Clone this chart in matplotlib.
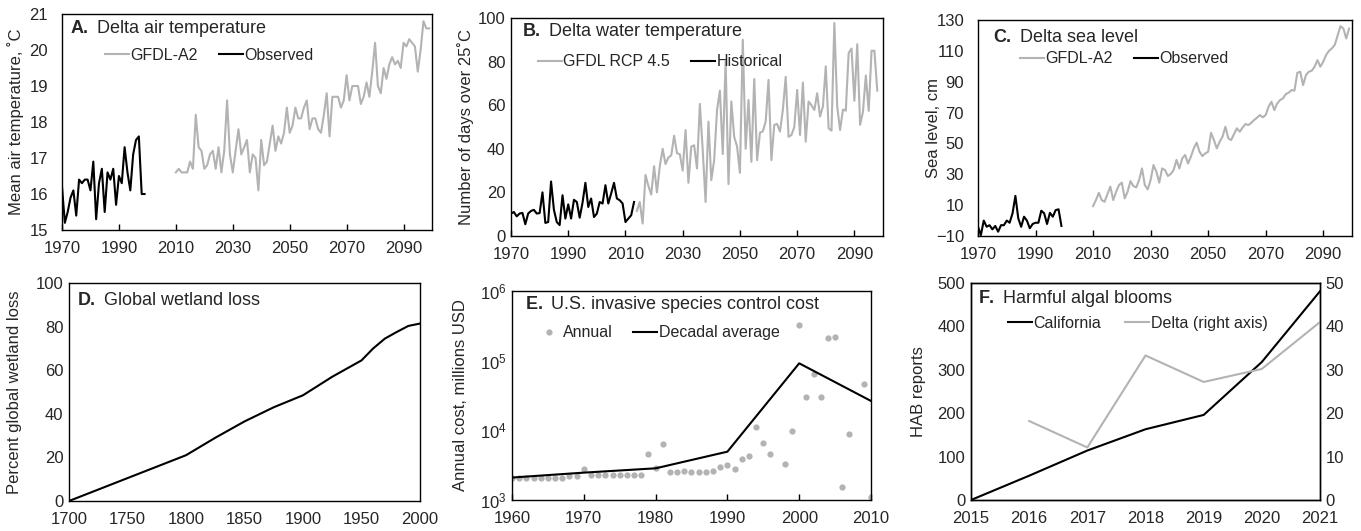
import numpy as np
import matplotlib
matplotlib.use("Agg")
import matplotlib.pyplot as plt

plt.rcParams["font.family"] = ["Liberation Sans", "DejaVu Sans"]
plt.rcParams["mathtext.fontset"] = "custom"
plt.rcParams["mathtext.rm"] = "Liberation Sans"
plt.rcParams["mathtext.bf"] = "Liberation Sans:bold"
plt.rcParams["font.size"] = 12

GRAY = "#b3b3b3"
TXT = "#262626"

# A. air temperature
air_obs_start = 1970
air_obs = [16.2, 15.2, 15.5, 15.9, 16.1, 15.4, 16.4, 16.3, 16.4, 16.4,
           16.1, 16.9, 15.3, 16.3, 16.7, 15.5, 16.6, 16.4, 16.7, 15.7,
           16.5, 16.3, 17.3, 16.6, 16.1, 17.1, 17.5, 17.6, 16.0, 16.0]
air_gfdl_start = 2010
air_gfdl = [16.6, 16.7, 16.6, 16.6, 16.6, 16.9, 16.7, 18.2, 17.3, 17.2,
            16.7, 16.8, 17.1, 17.2, 16.7, 17.3, 16.6, 17.2, 18.6, 17.1,
            16.6, 17.2, 17.8, 17.1, 17.3, 17.5, 16.6, 17.1, 17.0, 16.1,
            17.5, 16.8, 16.9, 17.4, 17.9, 17.2, 17.6, 17.4, 17.7, 18.4,
            17.7, 17.9, 18.4, 18.1, 18.1, 18.4, 18.6, 17.8, 18.1, 18.1,
            17.8, 17.7, 18.2, 18.8, 17.6, 18.7, 18.7, 18.7, 18.4, 18.6,
            19.3, 18.6, 19.0, 19.0, 19.0, 18.5, 18.7, 19.1, 18.7, 19.4,
            20.2, 19.0, 18.8, 19.5, 19.2, 19.6, 19.8, 19.6, 19.7, 19.5,
            20.2, 20.1, 20.3, 20.2, 20.1, 19.4, 20.0, 20.8, 20.6, 20.6]

# B. water temperature, days over 25C
water_hist_start = 1970
water_hist = [10.3, 11, 9, 10.3, 10.6, 5.4, 10.3, 11.5, 12, 10.3,
              10.5, 20, 6, 6.4, 25, 12, 6.4, 5, 18.7, 8,
              14.5, 8, 16.6, 15.6, 8.4, 15.3, 24.4, 13.3, 17.2, 8.7,
              10.3, 15.6, 14.9, 23.3, 14.9, 19.5, 24.4, 17.2, 16.4, 14.9,
              6.4, 8, 9.5, 15.6]
water_gfdl_start = 2014
water_gfdl = [11.5, 15.6, 5.7, 28, 23, 19, 32, 20, 32, 40,
              33, 36, 37, 46, 38,
              37.5, 30, 48.6, 24.4, 41, 41.6, 31, 60.6, 39.4, 15.6,
              52.5, 25.6, 34.8, 57.8, 66.7, 37.6, 80, 23.8, 61.7, 45.5,
              41, 29, 90, 40, 62.4, 34, 72, 34.8, 47.4, 48,
              52.5, 71.6, 34.8, 51, 51.4, 47.9, 57.8, 73, 45.5, 46.3,
              50, 67, 46.3, 70.4, 43.3, 61.7, 60, 57.8, 65.5, 54.8,
              59.4, 77.8, 49.4, 48.3, 97.7, 59.4, 48.6, 58, 57.5, 84,
              86, 62, 88, 51, 57, 73.6, 57.4, 85, 85, 66.7]

# C. sea level
sea_obs_start = 1970
sea_obs = [-4, -9.4, 0, -4, -3, -5.7, -3.5, -7.2, -3, -3,
           0, -1.4, 4.7, 16, 1.4, -4, 2.5, 0, -5, -2.2,
           -1.4, -1.4, 6.4, 4.7, -2.2, 5, 2.5, 6.8, 7.3, -3.5]
sea_gfdl_start = 2010
sea_gfdl = [9.4, 13.3, 18, 13.3, 12.2, 17.2, 22, 13.3, 18.6, 23, 24.6, 14.4,
            18.7, 25.6, 22.4, 21.5, 26.3, 33.8, 23, 20.2, 26.3, 36,
            31.7, 24.6, 33.8, 32.8, 28.9, 30.2, 32.8, 39.3, 33.8, 40.3,
            42.5, 37, 41.4, 46.8, 50.5, 44.6, 41.8, 43.6, 44.6, 56.9,
            52.2, 46.8, 51.1, 54.4, 60.8, 53.3, 52.2, 56.1, 59.8, 57.6,
            60.4, 62.6, 61.9, 63.4, 65.2, 66.7, 68.4, 66.9, 68.4, 73.8,
            77, 71.6, 75.9, 78.1, 79.2, 82, 82.9, 84.6, 84.2, 95.8,
            96.5, 87.8, 94.3, 96.5, 97.1, 99.7, 104, 99.7, 103, 107.3,
            110, 111.6, 113.8, 120, 126, 124.5, 118, 124.5]

# D. global wetland loss
wet_years = [1700, 1750, 1800, 1825, 1850, 1875, 1900, 1925, 1950, 1960, 1970, 1980, 1990, 2000]
wet_loss = [0, 10.5, 21, 29, 36.5, 43, 48.5, 57, 64.5, 70, 74.5, 77.5, 80.3, 81.4]

# E. invasive species control cost (millions USD), nan = no value
cost_start = 1960
cost_annual = [2100, 2100, 2100, 2100, 2100, 2100, 2100, 2100, 2240, 2240,
               2820, 2260, 2260, 2260, 2260, 2260, 2260, 2260, 2260, 4580,
               2850, 6360, 2490, 2510, 2640, 2510, 2510, 2510, 2580, 3010,
               3150, 2790, 3920, 4330, 11000, 6500, 4630, np.nan, 3290, 9780,
               321000, 30100, 63700, 30100, 209000, 216000, 1540, 8770, np.nan, 45700,
               1116]
cost_dec_years = [1960, 1970, 1980, 1990, 2000, 2010]
cost_decadal = [2100, 2470, 2850, 4940, 91600, 26400]

# F. harmful algal blooms
hab_years = [2015, 2016, 2017, 2018, 2019, 2020, 2021]
hab_california = [0, 56, 114, 163, 196, 318, 481]
hab_delta_years = [2016, 2017, 2018, 2019, 2020, 2021]
hab_delta = [18.2, 12.1, 33.3, 27.2, 30.2, 41]


def _yrs(start, values):
    return np.arange(start, start + len(values))


def _px_axes(fig, left, right, top, bottom):
    w, h = 1361.0, 531.0
    return fig.add_axes([left / w, 1 - bottom / h, (right - left) / w, (bottom - top) / h])


def _style(ax, ylabel, label_x, ypad=4, xticks_in=True):
    for s in ax.spines.values():
        s.set_linewidth(1.0)
        s.set_color("black")
    ax.tick_params(axis="y", length=0, pad=ypad, labelsize=12, colors=TXT)
    ax.tick_params(axis="x", direction="in", length=4 if xticks_in else 0,
                   width=1, pad=8, labelsize=12, colors=TXT)
    ax.tick_params(axis="both", color="black")
    ax.set_ylabel(ylabel, fontsize=12, color=TXT)
    ax.yaxis.set_label_coords(label_x, 0.5)


def _title(ax, letter, text, x, y):
    ax.text(x, y, rf"$\bf{{{letter}.}}$ {text}", transform=ax.transAxes,
            fontsize=13, va="center", ha="left", color=TXT)


def _legend(ax, x, y, handles=None, spacing=1.3):
    kw = dict(ncol=2, frameon=False, loc="center left", bbox_to_anchor=(x, y),
              handlelength=1.5, handletextpad=0.1, columnspacing=spacing,
              borderaxespad=0, borderpad=0, fontsize=11.5, labelcolor=TXT)
    if handles is not None:
        ax.legend(handles=handles, **kw)
    else:
        ax.legend(**kw)


fig = plt.figure(figsize=(13.61, 5.31), dpi=100)

# A
ax = _px_axes(fig, 62, 432, 14, 230)
ax.plot(_yrs(air_gfdl_start, air_gfdl), air_gfdl, color=GRAY, lw=1.5, label="GFDL-A2")
ax.plot(_yrs(air_obs_start, air_obs), air_obs, color="black", lw=1.5, label="Observed")
ax.set_xlim(1970, 2100)
ax.set_ylim(15, 21)
ax.set_xticks(range(1970, 2100, 20))
ax.set_yticks(range(15, 22))
_style(ax, "Mean air temperature, \u02daC", -0.103, ypad=10)
_title(ax, "A", "Delta air temperature", 0.022, 0.935)
_legend(ax, 0.116, 0.81)

# B
ax = _px_axes(fig, 511, 883, 18, 236)
ax.plot(_yrs(water_gfdl_start, water_gfdl), water_gfdl, color=GRAY, lw=1.5, label="GFDL RCP 4.5")
ax.plot(_yrs(water_hist_start, water_hist), water_hist, color="black", lw=1.5, label="Historical")
ax.set_xlim(1970, 2100)
ax.set_ylim(0, 100)
ax.set_xticks(range(1970, 2100, 20))
ax.set_yticks(range(0, 101, 20))
_style(ax, "Number of days over 25\u02daC", -0.0995)
_title(ax, "B", "Delta water temperature", 0.029, 0.936)
_legend(ax, 0.072, 0.80)

# C
ax = _px_axes(fig, 978, 1352, 20, 236)
ax.plot(_yrs(sea_gfdl_start, sea_gfdl), sea_gfdl, color=GRAY, lw=1.5, label="GFDL-A2")
ax.plot(_yrs(sea_obs_start, sea_obs), sea_obs, color="black", lw=1.5, label="Observed")
ax.set_xlim(1970, 2100)
ax.set_ylim(-10, 130)
ax.set_xticks(range(1970, 2100, 20))
ax.set_yticks(range(-10, 131, 20))
_style(ax, "Sea level, cm", -0.099, ypad=10)
_title(ax, "C", "Delta sea level", 0.041, 0.92)
_legend(ax, 0.112, 0.82)

# D
ax = _px_axes(fig, 69, 420, 283, 501)
ax.plot(wet_years, wet_loss, color="black", lw=1.5)
ax.set_xlim(1700, 2000)
ax.set_ylim(0, 100)
ax.set_xticks(range(1700, 2001, 50))
ax.set_yticks(range(0, 101, 20))
_style(ax, "Percent global wetland loss", -0.134, xticks_in=False)
_title(ax, "D", "Global wetland loss", 0.022, 0.92)

# E
ax = _px_axes(fig, 512, 871, 291, 500)
ax.plot(_yrs(cost_start, cost_annual), cost_annual, "o", color=GRAY, ms=4.5,
        mec="none", label="Annual")
ax.plot(cost_dec_years, cost_decadal, color="black", lw=1.5, label="Decadal average")
ax.set_yscale("log")
ax.set_xlim(1960, 2010)
ax.set_ylim(1e3, 1e6)
ax.set_xticks(range(1960, 2011, 10))
ax.set_yticks([1e3, 1e4, 1e5, 1e6])
ax.yaxis.set_minor_locator(matplotlib.ticker.NullLocator())
_style(ax, "Annual cost, millions USD", -0.123)
_title(ax, "E", "U.S. invasive species control cost", 0.036, 0.935)
_legend(ax, 0.07, 0.80)

# F
ax = _px_axes(fig, 971, 1320, 283, 500)
l1, = ax.plot(hab_years, hab_california, color="black", lw=1.5, label="California")
ax2 = ax.twinx()
l2, = ax2.plot(hab_delta_years, hab_delta, color=GRAY, lw=1.5, label="Delta (right axis)")
ax.set_xlim(2015, 2021)
ax.set_ylim(0, 500)
ax2.set_ylim(0, 50)
ax.set_xticks(hab_years)
ax.set_yticks(range(0, 501, 100))
ax2.set_yticks(range(0, 51, 10))
_style(ax, "HAB reports", -0.129, xticks_in=False)
ax2.tick_params(axis="y", length=0, pad=4, labelsize=12, colors=TXT)
for s in ax2.spines.values():
    s.set_linewidth(1.0)
_title(ax, "F", "Harmful algal blooms", 0.021, 0.93)
_legend(ax2, 0.106, 0.815, handles=[l1, l2], spacing=1.5)

fig.savefig("out.png", dpi=100)
